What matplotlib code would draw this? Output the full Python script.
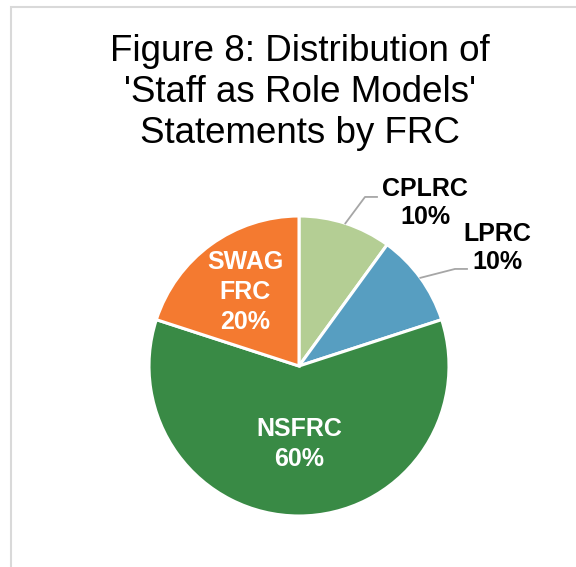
import numpy as np
import matplotlib.pyplot as plt
from matplotlib.patches import Rectangle

plt.rcParams['font.family'] = ['Liberation Sans', 'DejaVu Sans']

labels = ['CPLRC', 'LPRC', 'NSFRC', 'SWAG\nFRC']
shares = [10, 10, 60, 20]
colors = ['#B4CE94', '#579EC1', '#398A45', '#F47A30']
title = "Figure 8: Distribution of\n'Staff as Role Models'\nStatements by FRC"

W, H = 576, 567
fig = plt.figure(figsize=(W / 100, H / 100), dpi=100)

# pie centred at (299, 366) px, radius 150 px
cx, cy, r = 299, 366, 150
ax = fig.add_axes([(cx - r) / W, (H - cy - r) / H, 2 * r / W, 2 * r / H])
wedges, _ = ax.pie(shares, colors=colors, startangle=90, counterclock=False,
                   radius=1, wedgeprops=dict(edgecolor='white', linewidth=2.2))
ax.set_xlim(-1, 1)
ax.set_ylim(-1, 1)
ax.set_aspect('equal')
ax.axis('off')

# inside labels (white)
for w, lab, s in zip(wedges, labels, shares):
    mid = np.deg2rad((w.theta1 + w.theta2) / 2)
    if s >= 20:
        d = 0.52 if s == 60 else 0.61
        ax.text(d * np.cos(mid), d * np.sin(mid), f'{lab}\n{s}%', color='white',
                fontsize=18, fontweight='bold', ha='center', va='center',
                linespacing=1.3)

# outside labels with leader lines
outside = {0: ((0.84, 1.085), (0.44, 1.127), (0.52, 1.127)),
           1: ((1.32, 0.785), (1.04, 0.647), (1.12, 0.647))}
for i, (txt_xy, elbow, end) in outside.items():
    w = wedges[i]
    mid = np.deg2rad((w.theta1 + w.theta2) / 2)
    p0 = (1.0 * np.cos(mid), 1.0 * np.sin(mid))
    ax.plot([p0[0], elbow[0], end[0]], [p0[1], elbow[1], end[1]],
            color='#A6A6A6', lw=1.3, clip_on=False)
    ax.text(txt_xy[0], txt_xy[1], f'{labels[i]}\n{shares[i]}%', color='black',
            fontsize=18, fontweight='bold', ha='center', va='center',
            linespacing=1.2, clip_on=False)

fig.text(300 / W, 1 - 34 / H, title, ha='center', va='top', fontsize=26.5,
         linespacing=1.23)

# chart area border
fig.patches.append(Rectangle((11 / W, -0.1), 1.2, 1 - 7 / H + 0.1,
                             transform=fig.transFigure, fill=False,
                             edgecolor='#D9D9D9', lw=1.5))

plt.savefig('out.png', dpi=100)
